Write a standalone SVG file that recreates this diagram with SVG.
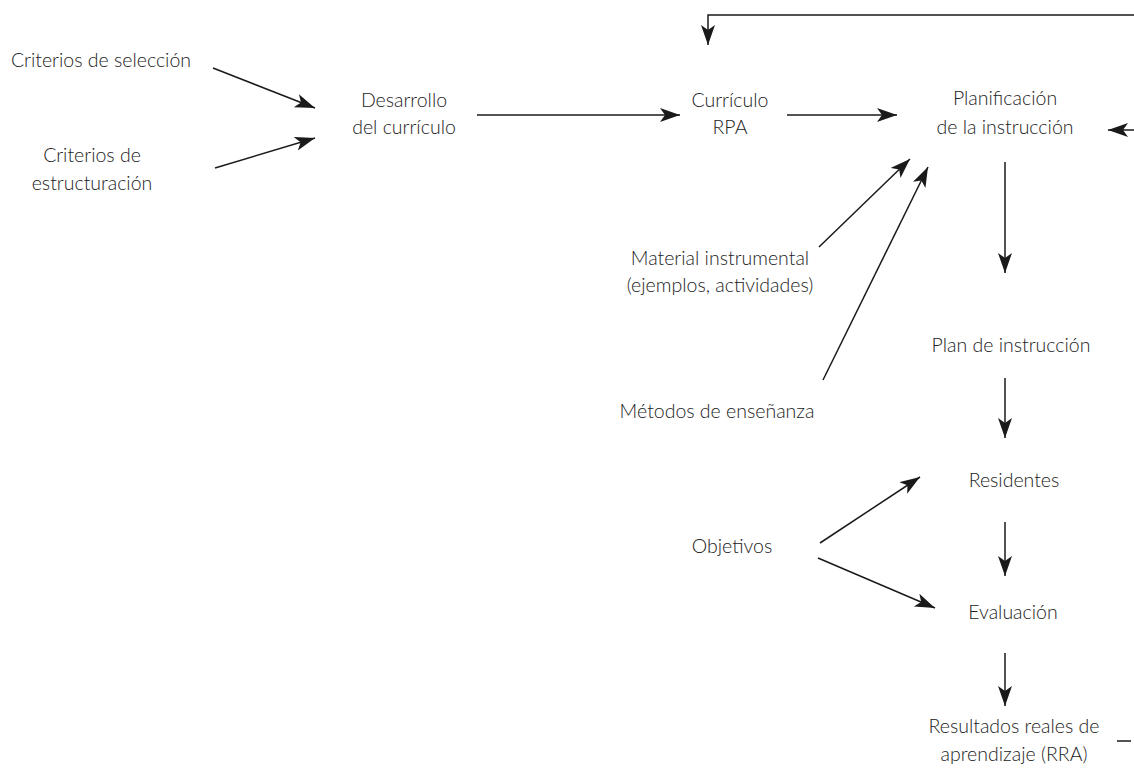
<svg xmlns="http://www.w3.org/2000/svg" width="1134" height="774" viewBox="0 0 1134 774">
<defs>
<style>
text{font-family:Lato,"Liberation Sans",sans-serif;font-weight:300;font-size:19.5px;fill:#222;text-anchor:middle}
.c line,.c path{stroke:#1a1a1a;stroke-width:1.5;fill:none}
</style>
<marker id="a" markerUnits="userSpaceOnUse" markerWidth="24" markerHeight="16" refX="20" refY="7" orient="auto">
<path d="M0,0 L20,7 L0,14 L5,7 z" fill="#1a1a1a"/>
</marker>
</defs>
<rect width="1134" height="774" fill="#fff"/>
<g class="c" id="connectors">
<line x1="213" y1="68" x2="315" y2="108" marker-end="url(#a)"/>
<line x1="215" y1="168" x2="315" y2="138" marker-end="url(#a)"/>
<line x1="477" y1="115" x2="680" y2="115" marker-end="url(#a)"/>
<line x1="787" y1="115" x2="897" y2="115" marker-end="url(#a)"/>
<path d="M1134,15 H708 V45" marker-end="url(#a)"/>
<line x1="1134" y1="130" x2="1108" y2="130" marker-end="url(#a)"/>
<line x1="819" y1="247" x2="910" y2="159" marker-end="url(#a)"/>
<line x1="823" y1="380" x2="928" y2="167" marker-end="url(#a)"/>
<line x1="1005" y1="162" x2="1005" y2="273" marker-end="url(#a)"/>
<line x1="1005" y1="378" x2="1005" y2="438" marker-end="url(#a)"/>
<line x1="1005" y1="522" x2="1005" y2="576" marker-end="url(#a)"/>
<line x1="1005" y1="653" x2="1005" y2="706" marker-end="url(#a)"/>
<line x1="820" y1="543" x2="920" y2="477" marker-end="url(#a)"/>
<line x1="818" y1="558" x2="935" y2="608" marker-end="url(#a)"/>
<line x1="1117" y1="741" x2="1131" y2="741"/>
</g>
<g id="n-seleccion"><text x="101" y="67">Criterios de selección</text></g>
<g id="n-estructuracion"><text x="92" y="162">Criterios de</text><text x="92" y="190">estructuración</text></g>
<g id="n-desarrollo"><text x="404" y="107">Desarrollo</text><text x="404" y="134">del currículo</text></g>
<g id="n-curriculo"><text x="730" y="107">Currículo</text><text x="730" y="134">RPA</text></g>
<g id="n-planificacion"><text x="1005" y="105">Planificación</text><text x="1005" y="134">de la instrucción</text></g>
<g id="n-material"><text x="720" y="265">Material instrumental</text><text x="720" y="292">(ejemplos, actividades)</text></g>
<g id="n-metodos"><text x="717" y="418">Métodos de enseñanza</text></g>
<g id="n-plan"><text x="1011" y="352">Plan de instrucción</text></g>
<g id="n-residentes"><text x="1014" y="487">Residentes</text></g>
<g id="n-objetivos"><text x="732" y="553">Objetivos</text></g>
<g id="n-evaluacion"><text x="1013" y="619">Evaluación</text></g>
<g id="n-resultados"><text x="1014" y="733">Resultados reales de</text><text x="1014" y="761">aprendizaje (RRA)</text></g>
</svg>
